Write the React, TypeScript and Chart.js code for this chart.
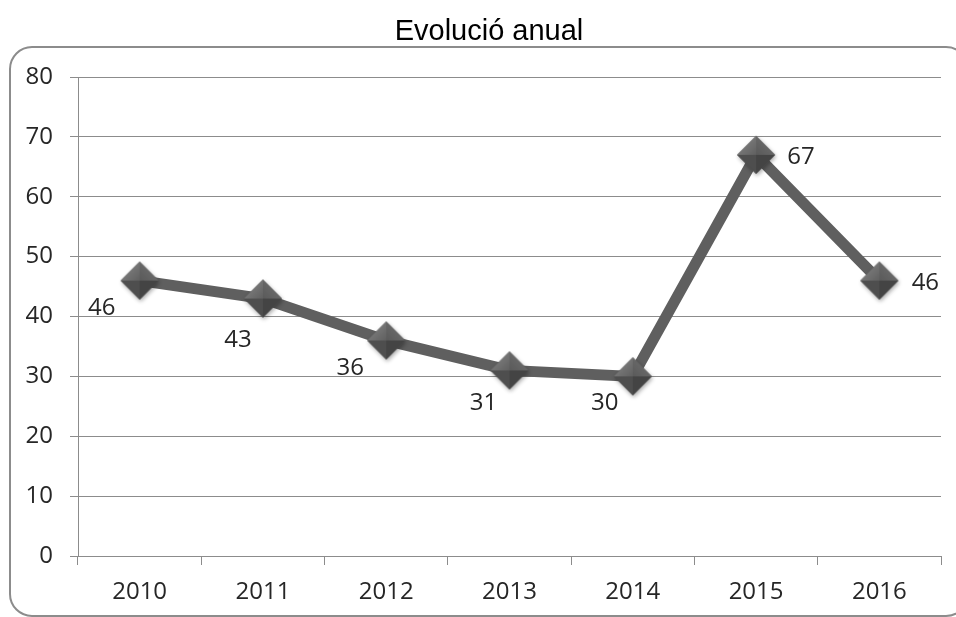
import React, { useEffect, useRef } from "react";
import { Chart, registerables } from "chart.js";

Chart.register(...registerables);

const TITLE = "Evolució anual";
const YEARS = ["2010", "2011", "2012", "2013", "2014", "2015", "2016"];
const VALUES = [46, 43, 36, 31, 30, 67, 46];
const Y_MIN = 0;
const Y_MAX = 80;
const Y_STEP = 10;
// data label offsets from each point (dx, dy) in px
const LABEL_DX = [-38, -25, -36, -26, -28, 45, 46];
const LABEL_DY = [28, 42, 28, 33, 27, 2, 3];

const TICK_FONT = { family: "'Open Sans', 'DejaVu Sans', sans-serif", size: 24 };

function makeDiamond(): HTMLCanvasElement {
  const size = 52;
  const c = document.createElement("canvas");
  c.width = size;
  c.height = size;
  const g = c.getContext("2d")!;
  const cx = size / 2;
  const cy = size / 2;
  const r = 19;
  g.save();
  g.shadowColor = "rgba(0,0,0,0.35)";
  g.shadowBlur = 4;
  g.shadowOffsetX = 1;
  g.shadowOffsetY = 2;
  g.beginPath();
  g.moveTo(cx, cy - r);
  g.lineTo(cx + r, cy);
  g.lineTo(cx, cy + r);
  g.lineTo(cx - r, cy);
  g.closePath();
  g.fillStyle = "#555";
  g.fill();
  g.restore();
  const facet = (pts: number[][], color: string | CanvasGradient) => {
    g.beginPath();
    g.moveTo(pts[0][0], pts[0][1]);
    for (let i = 1; i < pts.length; i++) g.lineTo(pts[i][0], pts[i][1]);
    g.closePath();
    g.fillStyle = color;
    g.fill();
  };
  const top: number[] = [cx, cy - r];
  const right: number[] = [cx + r, cy];
  const bottom: number[] = [cx, cy + r];
  const left: number[] = [cx - r, cy];
  const center: number[] = [cx, cy];
  const gTL = g.createLinearGradient(cx - r, cy - r, cx, cy);
  gTL.addColorStop(0, "#8a8a8a");
  gTL.addColorStop(1, "#606060");
  facet([left, top, center], gTL);
  const gTR = g.createLinearGradient(cx + r, cy - r, cx, cy);
  gTR.addColorStop(0, "#747474");
  gTR.addColorStop(1, "#5a5a5a");
  facet([top, right, center], gTR);
  facet([right, bottom, center], "#444444");
  facet([bottom, left, center], "#4e4e4e");
  return c;
}

export default function App() {
  const ref = useRef<HTMLCanvasElement>(null);
  useEffect(() => {
    if (!ref.current) return;
    const diamond = makeDiamond();

    const framePlugin = {
      id: "frame",
      beforeDraw(chart: any) {
        const ctx = chart.ctx;
        ctx.save();
        ctx.fillStyle = "#ffffff";
        ctx.fillRect(0, 0, chart.width, chart.height);
        ctx.strokeStyle = "#8c8c8c";
        ctx.lineWidth = 2;
        ctx.beginPath();
        ctx.roundRect(10, 47, 958, 569, 22);
        ctx.stroke();
        ctx.fillStyle = "#000000";
        ctx.font = "29px 'Liberation Sans', Arial, sans-serif";
        ctx.textAlign = "center";
        ctx.textBaseline = "alphabetic";
        ctx.fillText(TITLE, 489, 40);
        ctx.restore();
      },
    };

    const labelPlugin = {
      id: "valueLabels",
      afterDatasetsDraw(chart: any) {
        const ctx = chart.ctx;
        const meta = chart.getDatasetMeta(0);
        ctx.save();
        ctx.font = `${TICK_FONT.size}px ${TICK_FONT.family}`;
        ctx.fillStyle = "#262626";
        ctx.textAlign = "center";
        ctx.textBaseline = "middle";
        meta.data.forEach((pt: any, i: number) => {
          ctx.fillText(String(VALUES[i]), pt.x + LABEL_DX[i], pt.y + LABEL_DY[i]);
        });
        ctx.restore();
      },
    };

    const chart = new Chart(ref.current, {
      type: "line",
      data: {
        labels: YEARS,
        datasets: [
          {
            data: VALUES,
            borderColor: "#5f5f5f",
            borderWidth: 11,
            pointStyle: diamond as any,
            pointRadius: 19,
            tension: 0,
            clip: false as any,
          },
        ],
      },
      options: {
        responsive: false,
        animation: false,
        events: [],
        layout: { autoPadding: false, padding: { left: 0, right: 15, top: 77, bottom: 0 } },
        plugins: {
          legend: { display: false },
          tooltip: { enabled: false },
          title: { display: false },
        },
        scales: {
          x: {
            offset: true,
            grid: {
              offset: true,
              drawOnChartArea: false,
              drawTicks: true,
              tickLength: 9,
              color: "#8c8c8c",
            },
            border: { color: "#8c8c8c", width: 1 },
            ticks: { color: "#262626", font: TICK_FONT, padding: 13, maxRotation: 0 },
            afterFit(scale: any) {
              scale.height = 61;
              scale.paddingLeft = 0;
              scale.paddingRight = 0;
            },
          },
          y: {
            min: Y_MIN,
            max: Y_MAX,
            grid: { color: "#8c8c8c", tickLength: 8, lineWidth: 1 },
            border: { color: "#8c8c8c", width: 1 },
            ticks: { stepSize: Y_STEP, color: "#262626", font: TICK_FONT, padding: 17 },
            afterFit(scale: any) {
              scale.width = 78;
              scale.paddingTop = 0;
              scale.paddingBottom = 0;
            },
          },
        },
      },
      plugins: [framePlugin, labelPlugin],
    });
    return () => chart.destroy();
  }, []);

  return (
    <div style={{ position: "fixed", left: 0, top: 0, width: 956, height: 617 }}>
      <canvas ref={ref} width={956} height={617} style={{ width: 956, height: 617, display: "block" }} />
    </div>
  );
}
